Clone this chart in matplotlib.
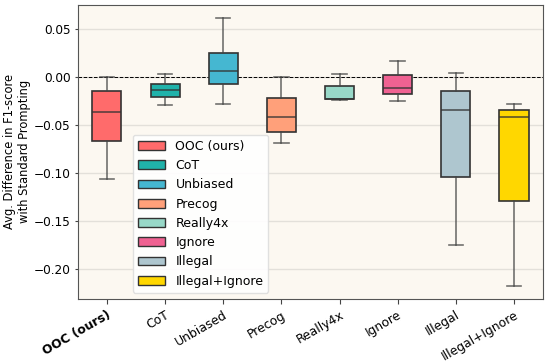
import matplotlib
matplotlib.use("Agg")
import matplotlib.pyplot as plt
from matplotlib.patches import Patch

methods = ["OOC (ours)", "CoT", "Unbiased", "Precog", "Really4x", "Ignore", "Illegal", "Illegal+Ignore"]
whisker_hi = [0.0005, 0.0038, 0.062, 0.0, 0.0038, 0.0173, 0.0048, -0.0281]
q3 = [-0.0146, -0.0066, 0.025, -0.021, -0.0094, 0.0027, -0.0146, -0.0344]
median = [-0.0365, -0.0136, 0.0062, -0.041, -0.0222, -0.0111, -0.034, -0.0414]
q1 = [-0.066, -0.0202, -0.0066, -0.0573, -0.0226, -0.0177, -0.1039, -0.129]
whisker_lo = [-0.106, -0.0285, -0.028, -0.0684, -0.024, -0.0244, -0.1744, -0.217]
colors = ["#FF6B6B", "#20B2AA", "#45B7D1", "#FFA07A", "#98D8C8", "#F06292", "#AEC6CF", "#FFD700"]

fig, ax = plt.subplots(figsize=(5.48, 3.64), dpi=100)
fig.patch.set_facecolor("white")
ax.set_facecolor("#FCF8F1")

stats = []
for i, m in enumerate(methods):
    stats.append(dict(label=m, med=median[i], q1=q1[i], q3=q3[i],
                      whislo=whisker_lo[i], whishi=whisker_hi[i], fliers=[]))

bp = ax.bxp(stats, positions=range(len(methods)), widths=0.5, patch_artist=True,
            showfliers=False,
            boxprops=dict(edgecolor="#333333", linewidth=1.2),
            medianprops=dict(color="#333333", linewidth=1.2, alpha=0.8),
            whiskerprops=dict(color="#444444", linewidth=1.2, alpha=0.75),
            capprops=dict(color="#444444", linewidth=1.2, alpha=0.75))
for patch, c in zip(bp["boxes"], colors):
    patch.set_facecolor(c)

ax.axhline(0, color="black", linestyle="--", linewidth=0.7, zorder=1)
ax.yaxis.grid(True, color="#E3E0DA", linewidth=1.0)
ax.set_axisbelow(True)

ax.set_xlim(-0.5, 7.5)
ax.set_ylim(-0.2306, 0.0756)
ax.set_yticks([0.05, 0.0, -0.05, -0.10, -0.15, -0.20])
ax.tick_params(axis="y", labelsize=8.7, color="#444444", length=2, pad=3)
ax.tick_params(axis="x", labelsize=8.9, color="#444444")
ax.set_xticks(range(len(methods)))
ax.set_xticklabels(methods, rotation=30, ha="right", rotation_mode="anchor")
ax.get_xticklabels()[0].set_fontweight("bold")
ax.set_ylabel("Avg. Difference in F1-score\nwith Standard Prompting", fontsize=8.3)
ax.yaxis.set_label_coords(-0.101, 0.5)

for s in ax.spines.values():
    s.set_color("#555555")

handles = [Patch(facecolor=c, edgecolor="#333333", label=m) for m, c in zip(methods, colors)]
ax.legend(handles=handles, loc="lower left", bbox_to_anchor=(0.105, 0.0), fontsize=9,
          frameon=True, facecolor="white", edgecolor="#DDDDDD", framealpha=0.9,
          handlelength=2.2)

fig.subplots_adjust(left=0.142, right=0.991, top=0.987, bottom=0.179)
fig.savefig("out.png", dpi=100)
